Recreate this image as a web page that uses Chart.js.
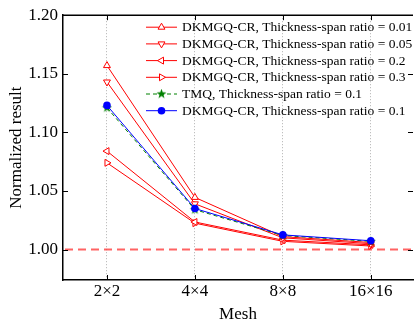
<!DOCTYPE html>
<html>
<head>
<meta charset="utf-8">
<script src="https://cdn.jsdelivr.net/npm/chart.js@4.4.0/dist/chart.umd.min.js"></script>
<style>
  html, body { margin: 0; padding: 0; background: #fff; }
  #wrap { width: 418px; height: 321px; }
</style>
</head>
<body>
<div id="wrap"><canvas id="myChart"></canvas></div>
<script>
// Valores
const meshLabels = ['2×2', '4×4', '8×8', '16×16'];
const yTickValues = [1.00, 1.05, 1.10, 1.15, 1.20];
const dkm001 = [1.157, 1.0445, 1.011, 1.006];
const dkm005 = [1.143, 1.039, 1.010, 1.005];
const dkm02 = [1.084, 1.0235, 1.008, 1.004];
const dkm03 = [1.074, 1.0225, 1.007, 1.003];
const tmq01 = [1.121, 1.034, 1.012, 1.007];
const dkm01 = [1.123, 1.035, 1.0125, 1.0075];
const referenceValue = 1.00;

const serif = "'Liberation Serif', 'DejaVu Serif', serif";
Chart.defaults.font.family = serif;
Chart.defaults.color = '#000';

const toPoints = arr => arr.map((v, i) => ({ x: i + 1, y: v }));

// Estrella rellena para TMQ
function makeStar(color) {
    const c = document.createElement('canvas');
    c.width = 11; c.height = 11;
    const g = c.getContext('2d');
    g.fillStyle = color;
    g.beginPath();
    for (let i = 0; i < 10; i++) {
        const r = i % 2 === 0 ? 5.2 : 2.1;
        const a = -Math.PI / 2 + i * Math.PI / 5;
        const px = 5.5 + r * Math.cos(a), py = 5.5 + r * Math.sin(a);
        if (i === 0) g.moveTo(px, py); else g.lineTo(px, py);
    }
    g.closePath();
    g.fill();
    return c;
}
const starGreen = makeStar('#008000');

function redSeries(label, values, rotation) {
    return {
        label: label,
        data: toPoints(values),
        borderColor: '#ff0000',
        backgroundColor: '#ffffff',
        borderWidth: 1,
        pointStyle: 'triangle',
        rotation: rotation,
        pointRadius: 4,
        pointBorderWidth: 1,
        tension: 0,
        order: 2
    };
}

// Leyenda dibujada dentro del área del gráfico
const insideLegend = {
    id: 'insideLegend',
    afterDraw(chart) {
        const ctx = chart.ctx;
        const area = chart.chartArea;
        const x0 = area.left + 83, x1 = area.left + 114, xm = (x0 + x1) / 2;
        const y0 = area.top + 12, step = 16.7;
        ctx.save();
        chart.data.datasets.forEach((ds, i) => {
            const y = y0 + i * step;
            ctx.strokeStyle = ds.borderColor;
            ctx.lineWidth = ds.borderWidth;
            ctx.setLineDash(ds.borderDash || []);
            ctx.beginPath();
            ctx.moveTo(x0, y);
            ctx.lineTo(x1, y);
            ctx.stroke();
            ctx.setLineDash([]);
            ctx.fillStyle = ds.backgroundColor;
            ctx.strokeStyle = ds.borderColor;
            ctx.lineWidth = ds.pointBorderWidth;
            Chart.helpers.drawPoint(ctx, {
                pointStyle: ds.pointStyle,
                radius: ds.pointRadius,
                rotation: ds.rotation || 0,
                borderWidth: ds.pointBorderWidth
            }, xm, y);
            ctx.fillStyle = '#000';
            ctx.font = '13.5px ' + serif;
            ctx.textAlign = 'left';
            ctx.textBaseline = 'middle';
            ctx.fillText(ds.label, x1 + 5, y + 0.5);
        });
        ctx.restore();
    }
};

// Marco superior, ticks hacia dentro y línea de referencia
const frameAndRef = {
    id: 'frameAndRef',
    beforeDatasetsDraw(chart) {
        const ctx = chart.ctx;
        const area = chart.chartArea;
        const yRef = chart.scales.y.getPixelForValue(referenceValue);
        ctx.save();
        ctx.strokeStyle = 'rgba(255, 60, 60, 0.8)';
        ctx.lineWidth = 2;
        ctx.setLineDash([8, 5]);
        ctx.beginPath();
        ctx.moveTo(area.left + 2, yRef);
        ctx.lineTo(area.right, yRef);
        ctx.stroke();
        ctx.restore();
    },
    afterDraw(chart) {
        const ctx = chart.ctx;
        const area = chart.chartArea;
        const xs = chart.scales.x, ys = chart.scales.y;
        ctx.save();
        ctx.strokeStyle = '#000';
        ctx.lineWidth = 1.5;
        ctx.beginPath();
        ctx.moveTo(area.left, area.top);
        ctx.lineTo(area.right, area.top);
        ctx.stroke();
        ctx.lineWidth = 1;
        ctx.beginPath();
        yTickValues.forEach(v => {
            const y = Math.round(ys.getPixelForValue(v)) + 0.5;
            ctx.moveTo(area.left, y); ctx.lineTo(area.left + 5, y);
            ctx.moveTo(area.right - 5, y); ctx.lineTo(area.right, y);
        });
        meshLabels.forEach((m, i) => {
            const x = Math.round(xs.getPixelForValue(i + 1)) + 0.5;
            ctx.moveTo(x, area.bottom); ctx.lineTo(x, area.bottom - 5);
            ctx.moveTo(x, area.top); ctx.lineTo(x, area.top + 5);
        });
        ctx.stroke();
        ctx.restore();
    }
};

const ctxChart = document.getElementById('myChart').getContext('2d');
const myChart = new Chart(ctxChart, {
    type: 'line',
    data: {
        datasets: [
            redSeries('DKMGQ-CR, Thickness-span ratio = 0.01', dkm001, 0),
            redSeries('DKMGQ-CR, Thickness-span ratio = 0.05', dkm005, 180),
            redSeries('DKMGQ-CR, Thickness-span ratio = 0.2', dkm02, -90),
            redSeries('DKMGQ-CR, Thickness-span ratio = 0.3', dkm03, 90),
            {
                label: 'TMQ, Thickness-span ratio = 0.1',
                data: toPoints(tmq01),
                borderColor: '#008000',
                backgroundColor: '#008000',
                borderWidth: 1,
                borderDash: [4, 3],
                pointStyle: starGreen,
                pointRadius: 4,
                pointBorderWidth: 0,
                tension: 0,
                order: 1
            },
            {
                label: 'DKMGQ-CR, Thickness-span ratio = 0.1',
                data: toPoints(dkm01),
                borderColor: '#0000ff',
                backgroundColor: '#0000ff',
                borderWidth: 1,
                pointStyle: 'circle',
                pointRadius: 3.8,
                pointBorderWidth: 0,
                tension: 0,
                order: 0
            }
        ]
    },
    options: {
        responsive: true,
        maintainAspectRatio: false,
        animation: false,
        layout: { padding: { top: 14, right: 0, left: 0, bottom: 0 } },
        plugins: {
            legend: { display: false },
            tooltip: { enabled: false }
        },
        scales: {
            x: {
                type: 'linear',
                min: 0.5,
                max: 4.48,
                afterBuildTicks: scale => { scale.ticks = meshLabels.map((m, i) => ({ value: i + 1 })); },
                afterFit: scale => { scale.height = 41; },
                ticks: {
                    padding: 1,
                    font: { size: 17 },
                    callback: (value, index) => meshLabels[index]
                },
                grid: {
                    display: true,
                    drawTicks: false,
                    color: '#b0b0b0',
                    lineWidth: 1
                },
                border: { display: true, color: '#000', width: 1.5, dash: [1, 2] },
                title: {
                    display: true,
                    text: 'Mesh',
                    font: { size: 17, lineHeight: 1 },
                    padding: { top: 0, bottom: -2 }
                }
            },
            y: {
                min: 0.974,
                max: 1.2,
                afterBuildTicks: scale => { scale.ticks = yTickValues.map(v => ({ value: v })); },
                afterFit: scale => { scale.width = 63; },
                ticks: {
                    padding: 5,
                    font: { size: 17 },
                    callback: value => value.toFixed(2)
                },
                grid: { display: false, drawTicks: false },
                border: { display: true, color: '#000', width: 1.5 },
                title: {
                    display: true,
                    text: 'Normalized result',
                    font: { size: 17, lineHeight: 1 },
                    padding: { top: 8.5, bottom: 0 }
                }
            }
        }
    },
    plugins: [frameAndRef, insideLegend]
});
</script>
</body>
</html>
